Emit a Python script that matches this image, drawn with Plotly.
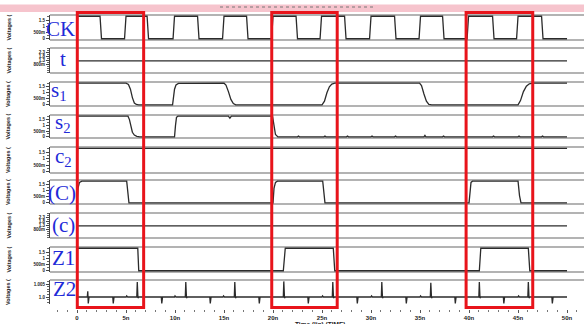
import plotly.graph_objects as go

# ---------------- data ----------------
ck_points = [(0, 0), (0.05, 1.8), (2.35, 1.8), (2.5, 0), (4.85, 0), (5.0, 1.8), (7.15, 1.8), (7.3, 0),
             (9.8, 0), (9.95, 1.8), (12.3, 1.8), (12.45, 0), (14.85, 0), (15.0, 1.8), (17.3, 1.8), (17.45, 0),
             (19.85, 0), (20.0, 1.8), (22.35, 1.8), (22.5, 0), (24.8, 0), (24.95, 1.8), (27.3, 1.8), (27.45, 0),
             (29.85, 0), (30.0, 1.8), (32.4, 1.8), (32.55, 0), (34.9, 0), (35.05, 1.8), (37.3, 1.8), (37.45, 0),
             (39.8, 0), (39.95, 1.8), (42.4, 1.8), (42.55, 0), (44.85, 0), (45.0, 1.8), (47.4, 1.8), (47.55, 0),
             (50.0, 0)]
t_points = [(0, 1.2), (50.0, 1.2)]
s1_points = [(0, 1.8), (2.4, 1.8), (2.5, 1.84), (2.6, 1.8), (5.0, 1.8), (5.25, 1.7), (5.45, 1.3), (5.65, 0.6),
             (5.85, 0.15), (6.05, 0.03), (6.3, 0), (9.75, 0), (9.85, 0.5), (9.95, 1.3), (10.1, 1.65), (10.35, 1.78),
             (15.0, 1.8), (15.2, 1.65), (15.45, 1.1), (15.7, 0.45), (15.95, 0.1), (16.2, 0), (25.0, 0), (25.25, 0.3),
             (25.5, 1.0), (25.75, 1.5), (26.0, 1.72), (26.3, 1.8), (34.95, 1.8), (35.15, 1.6), (35.4, 0.9),
             (35.65, 0.3), (35.9, 0.03), (36.2, 0), (45.0, 0), (45.25, 0.35), (45.55, 1.1), (45.85, 1.55),
             (46.15, 1.75), (46.5, 1.8), (50.0, 1.8)]
s2_points = [(0, 1.8), (5.2, 1.8), (5.35, 1.5), (5.5, 0.9), (5.65, 0.4), (5.85, 0.15), (6.1, 0.04), (6.4, 0),
             (9.95, 0), (10.05, 1.0), (10.15, 1.7), (10.3, 1.8), (15.45, 1.8), (15.6, 1.62), (15.75, 1.8),
             (19.95, 1.8), (20.1, 0.9), (20.25, 0.2), (20.5, 0), (22.5, 0), (22.6, 0.07), (22.7, 0),
             (25.2, 0), (25.3, 0.07), (25.4, 0), (27.5, 0), (27.6, 0.07), (27.7, 0), (30.0, 0), (30.1, 0.07),
             (30.2, 0), (32.4, 0), (32.5, 0.07), (32.6, 0), (35.4, 0), (35.5, 0.12), (35.6, 0), (37.3, 0),
             (37.4, 0.07), (37.5, 0), (42.4, 0), (42.5, 0.07), (42.6, 0), (45.0, 0), (45.1, 0.07), (45.2, 0),
             (47.4, 0), (47.5, 0.07), (47.6, 0), (50.0, 0)]
c2_points = [(0, 0), (0.05, 1.8), (50.0, 1.8)]
C_points = [(0, 0), (0.1, 1.2), (0.25, 1.7), (0.5, 1.8), (5.07, 1.8), (5.2, 0.6), (5.3, 0), (20.0, 0),
            (20.1, 1.2), (20.25, 1.7), (20.45, 1.8), (25.07, 1.8), (25.2, 0.6), (25.3, 0), (40.0, 0),
            (40.1, 1.2), (40.2, 1.7), (40.35, 1.8), (45.0, 1.8), (45.15, 0.6), (45.3, 0), (50.0, 0)]
c_points = [(0, 1.2), (50.0, 1.2)]
Z1_points = [(0, 1.8), (6.2, 1.8), (6.3, 0), (11.15, 0), (11.2, 0.06), (11.25, 0), (16.15, 0), (16.2, 0.06),
             (16.25, 0), (21.05, 0), (21.25, 1.8), (26.15, 1.8), (26.3, 0), (31.05, 0), (31.1, 0.06),
             (31.15, 0), (36.05, 0), (36.1, 0.06), (36.15, 0), (41.05, 0), (41.2, 1.8), (46.05, 1.8),
             (46.2, 0), (50.0, 0)]
Z2_points = [(0, 1.0),
             (1.05, 1.0), (1.1, 1.0022), (1.15, 0.9975), (1.23, 1.0),
             (3.65, 1.0), (3.7, 0.9975), (3.78, 1.0),
             (5.02, 1.0), (5.07, 1.0004), (5.17, 1.0),
             (6.1, 1.0), (6.15, 1.0058), (6.22, 0.9996), (6.3, 1.0),
             (8.6, 1.0), (8.65, 0.9975), (8.73, 1.0),
             (9.95, 1.0), (10.0, 1.0004), (10.1, 1.0),
             (11.05, 1.0), (11.1, 1.0058), (11.17, 0.9996), (11.25, 1.0),
             (13.55, 1.0), (13.6, 0.9975), (13.68, 1.0),
             (14.9, 1.0), (14.95, 1.0004), (15.05, 1.0),
             (16.05, 1.0), (16.1, 1.0058), (16.17, 0.9996), (16.25, 1.0),
             (18.55, 1.0), (18.6, 0.9975), (18.68, 1.0),
             (21.05, 1.0), (21.1, 1.006), (21.17, 0.9996), (21.25, 1.0),
             (23.55, 1.0), (23.6, 0.9975), (23.68, 1.0),
             (25.0, 1.0), (25.05, 1.0004), (25.15, 1.0),
             (26.05, 1.0), (26.1, 1.0058), (26.17, 0.9996), (26.25, 1.0),
             (28.55, 1.0), (28.6, 0.9975), (28.68, 1.0),
             (30.0, 1.0), (30.05, 1.0004), (30.15, 1.0),
             (31.05, 1.0), (31.1, 1.0058), (31.17, 0.9996), (31.25, 1.0),
             (33.55, 1.0), (33.6, 0.9975), (33.68, 1.0),
             (35.0, 1.0), (35.05, 1.0004), (35.15, 1.0),
             (36.05, 1.0), (36.1, 1.0055), (36.17, 0.9996), (36.25, 1.0),
             (38.55, 1.0), (38.6, 0.9975), (38.68, 1.0),
             (41.0, 1.0), (41.05, 1.0058), (41.12, 0.9996), (41.2, 1.0),
             (43.5, 1.0), (43.55, 0.9975), (43.63, 1.0),
             (45.0, 1.0), (45.05, 1.0004), (45.15, 1.0),
             (46.0, 1.0), (46.05, 1.0058), (46.12, 0.9996), (46.2, 1.0),
             (48.45, 1.0), (48.5, 0.9975), (48.58, 1.0),
             (50.0, 1.0)]

signal_names = ["CK", "t", "s<sub>1</sub>", "s<sub>2</sub>", "c<sub>2</sub>", "(C)", "(c)", "Z1", "Z2"]
signal_points = [ck_points, t_points, s1_points, s2_points, c2_points, C_points, c_points, Z1_points, Z2_points]

volt_ticks = [0, 0.5, 1, 1.5]
volt_ticktext = ["0", "500m", "1", "1.5"]
t_ticks = [0.8, 1.3, 1.8, 2.3]
t_ticktext = ["800m", "1.3", "1.8", "2.3"]
z2_ticks = [1.0, 1.005]
z2_ticktext = ["1.0", "1.005"]
time_ticks = [0, 5, 10, 15, 20, 25, 30, 35, 40, 45, 50]
time_ticktext = ["0", "5n", "10n", "15n", "20n", "25n", "30n", "35n", "40n", "45n", "50n"]
highlight_windows = [(0.03, 6.8), (19.87, 26.55), (39.7, 46.5)]

# ---------------- layout helpers (pixels -> paper) ----------------
W, H = 584, 324
L, R, T, B = 50, 0, 0, 15
PW, PH = W - L - R, H - T - B
fx = lambda px: (px - L) / PW
fy = lambda py: 1 - (py - T) / PH

panel_px = [(15, 40), (48, 73), (82, 106), (115, 138), (147, 173), (180, 204), (213, 238), (247, 272), (280, 304)]
label_px = [(60.5, 29), (63, 59), (58.5, 91), (63, 123), (63, 157), (62, 193), (63.5, 225), (63.5, 258), (64.5, 289)]

std_range = [-0.1, 1.9]
t_range = [-0.325, 2.8]
z2_range = [0.997308, 1.006538]

axis_cfg = [
    (std_range, volt_ticks, volt_ticktext, 0.25),
    (t_range, t_ticks, t_ticktext, 0.25),
    (std_range, volt_ticks, volt_ticktext, 0.25),
    (std_range, volt_ticks, volt_ticktext, 0.25),
    (std_range, volt_ticks, volt_ticktext, 0.25),
    (std_range, volt_ticks, volt_ticktext, 0.25),
    (t_range, t_ticks, t_ticktext, 0.25),
    (std_range, volt_ticks, volt_ticktext, 0.25),
    (z2_range, z2_ticks, z2_ticktext, 0.001),
]

WAVE = "#2b2b2b"
GRID = "#9a9a9a"
BLUE = "#1f2bd8"
RED = "#e8141b"

fig = go.Figure()
layout = dict(
    width=W, height=H, margin=dict(l=L, r=R, t=T, b=B),
    paper_bgcolor="white", plot_bgcolor="white", showlegend=False,
    xaxis=dict(range=[-2.755, 51.73], domain=[0, 1], anchor="free", position=0,
               showline=False, showgrid=False, zeroline=False,
               tickvals=time_ticks, ticktext=time_ticktext, ticks="outside", ticklen=3,
               tickcolor="#555", tickwidth=1,
               minor=dict(dtick=1, ticks="outside", ticklen=2, tickcolor="#777"),
               tickfont=dict(family="Liberation Sans, Arial", size=6, color="#222", weight="bold")),
)

shapes = []
annotations = []
for i, (pts, (top, bot), (rng, tv, tt, mdt)) in enumerate(zip(signal_points, panel_px, axis_cfg)):
    n = i + 1
    yname = "y" if n == 1 else f"y{n}"
    ykey = "yaxis" if n == 1 else f"yaxis{n}"
    xs = [p[0] for p in pts]
    ys = [p[1] for p in pts]
    fig.add_trace(go.Scatter(x=xs, y=ys, mode="lines", xaxis="x", yaxis=yname,
                             line=dict(color=WAVE, width=1.3), hoverinfo="skip"))
    layout[ykey] = dict(domain=[fy(bot), fy(top)], range=rng, anchor="x",
                        showline=True, linecolor="#444", linewidth=1, mirror=False,
                        showgrid=False, zeroline=False,
                        tickvals=tv, ticktext=tt, ticks="outside", ticklen=3, tickcolor="#444",
                        minor=dict(dtick=mdt, ticks="outside", ticklen=2, tickcolor="#666"),
                        tickfont=dict(family="Liberation Sans, Arial", size=4.5, color="#222", weight="bold"))
    lines_py = [top, bot] if n < 9 else [top]
    for py in lines_py:
        shapes.append(dict(type="line", xref="paper", yref="paper", x0=0, x1=1, y0=fy(py), y1=fy(py),
                           line=dict(color=GRID, width=1.4), layer="below"))
    annotations.append(dict(text="Voltages (", xref="paper", yref="paper", x=fx(8), y=fy((top + bot) / 2),
                            showarrow=False, textangle=-90, xanchor="center", yanchor="middle",
                            font=dict(family="Liberation Sans Narrow, Arial Narrow, Liberation Sans",
                                      size=5.5, color="#222", weight="bold")))
    lx, ly = label_px[i]
    annotations.append(dict(text=signal_names[i], xref="paper", yref="paper", x=fx(lx), y=fy(ly),
                            showarrow=False, xanchor="center", yanchor="middle",
                            font=dict(family="Liberation Serif, Times New Roman, serif", size=21, color=BLUE)))

for x0, x1 in highlight_windows:
    shapes.append(dict(type="rect", xref="x", yref="paper", x0=x0, x1=x1, y0=fy(307.5), y1=fy(12.5),
                       line=dict(color=RED, width=3), fillcolor="rgba(0,0,0,0)", layer="above"))

shapes.append(dict(type="rect", xref="paper", yref="paper", x0=fx(0), x1=fx(W), y0=fy(12), y1=fy(4.5),
                   line=dict(width=0), fillcolor="#f6c4cd", layer="below"))
shapes.append(dict(type="line", xref="paper", yref="paper", x0=fx(220), x1=fx(375), y0=fy(7), y1=fy(7),
                   line=dict(color="#777", width=1, dash="dot"), layer="above"))

annotations.append(dict(text="Time (lin) (TIME)", xref="paper", yref="paper", x=fx(320), y=fy(318.5),
                        showarrow=False, xanchor="center", yanchor="top",
                        font=dict(family="Liberation Sans, Arial", size=6.5, color="#222", weight="bold")))

layout["shapes"] = shapes
layout["annotations"] = annotations
fig.update_layout(**layout)
fig.write_html("out.html", config={"displayModeBar": False, "staticPlot": True},
               post_script="document.body.style.margin='0px';document.body.style.overflow='hidden';")
